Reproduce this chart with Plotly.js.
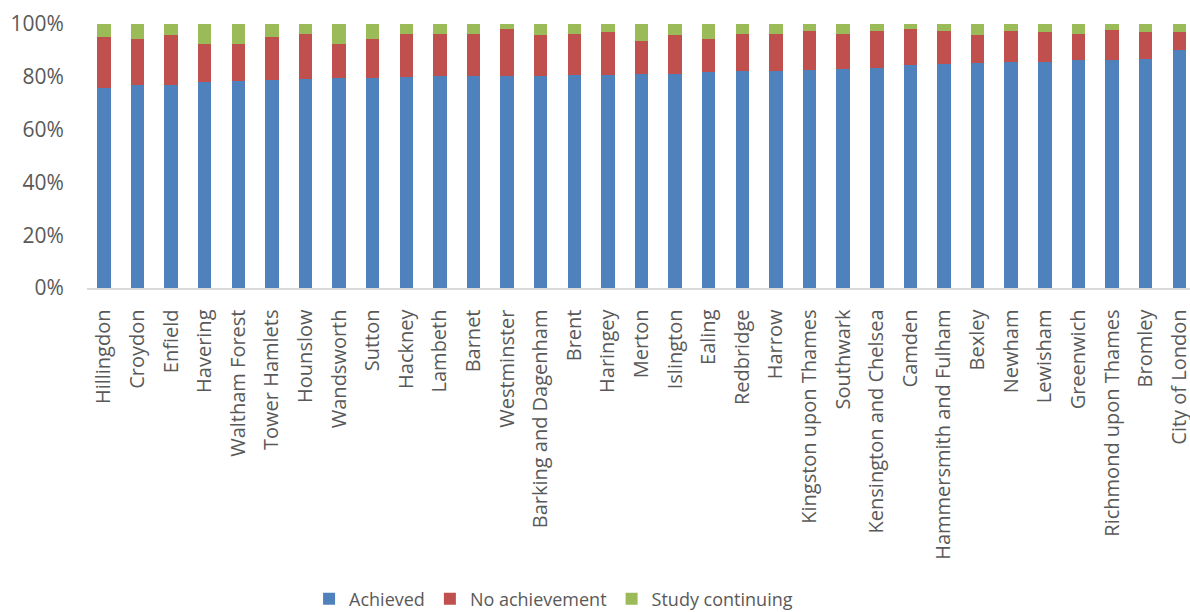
<!DOCTYPE html>
<html><head><meta charset="utf-8">
<script src="https://cdn.plot.ly/plotly-3.0.1.min.js"></script>
<style>html,body{margin:0;padding:0;background:#fff}#chart{width:1190px;height:612px}</style>
</head><body><div id="chart"></div>
<script>
const boroughs = ["Hillingdon","Croydon","Enfield","Havering","Waltham Forest","Tower Hamlets","Hounslow","Wandsworth","Sutton","Hackney","Lambeth","Barnet","Westminster","Barking and Dagenham","Brent","Haringey","Merton","Islington","Ealing","Redbridge","Harrow","Kingston upon Thames","Southwark","Kensington and Chelsea","Camden","Hammersmith and Fulham","Bexley","Newham","Lewisham","Greenwich","Richmond upon Thames","Bromley","City of London"];
const achieved = [75.7,76.8,76.8,78.0,78.3,78.7,79.1,79.5,79.5,80.1,80.2,80.2,80.4,80.4,80.5,80.8,81.0,81.0,81.8,82.1,82.1,82.5,82.9,83.4,84.4,84.8,85.2,85.6,85.6,86.2,86.2,86.7,90.1];
const noAchievement = [19.5,17.7,19.1,14.5,14.3,16.4,17.3,13.1,14.8,16.3,16.2,16.2,17.6,15.3,15.8,16.0,12.5,14.9,12.7,14.0,14.3,14.7,13.4,13.9,13.6,12.4,10.5,11.6,11.2,10.1,11.4,10.1,6.7];
const studyContinuing = [4.8,5.5,4.1,7.5,7.4,4.9,3.6,7.4,5.7,3.6,3.6,3.6,2.0,4.3,3.7,3.2,6.5,4.1,5.5,3.9,3.6,2.8,3.7,2.7,2.0,2.8,4.3,2.8,3.2,3.7,2.4,3.2,3.2];
const yTicks = [0,20,40,60,80,100];
const yTickText = ["0%","20%","40%","60%","80%","100%"];

const font = "Open Sans, sans-serif";
const mk = (name, y, color) => ({type:"bar", name, x:boroughs, y, marker:{color, line:{width:0}}, hoverinfo:"none"});
const data = [
  mk("Achieved", achieved, "#4F81BD"),
  mk("No achievement", noAchievement, "#C0504D"),
  mk("Study continuing", studyContinuing, "#9BBB59")
];
const layout = {
  width:1190, height:612,
  barmode:"stack", barnorm:"percent", bargap:0.6,
  margin:{l:87, r:0, t:24, b:324, autoexpand:false},
  paper_bgcolor:"#fff", plot_bgcolor:"#fff",
  font:{family:font, color:"#595959", size:20},
  showlegend:true,
  legend:{orientation:"h", x:0.423, xanchor:"center", y:-1.178, yanchor:"middle", font:{size:18, color:"#595959"}, traceorder:"normal", itemwidth:30},
  xaxis:{type:"category", range:[-0.5,32.32], tickangle:-90, showline:true, linecolor:"#d9d9d9", linewidth:1.5, ticks:"outside", ticklen:12, tickcolor:"rgba(0,0,0,0)", tickfont:{size:20, color:"#595959"}, showgrid:false, zeroline:false},
  yaxis:{range:[0,100], tickvals:yTicks, ticktext:yTickText, showgrid:false, zeroline:false, showline:false, ticks:"outside", ticklen:18, tickcolor:"rgba(0,0,0,0)", tickfont:{size:21, color:"#595959"}}
};
Plotly.newPlot("chart", data, layout, {staticPlot:true, displayModeBar:false});
</script></body></html>
